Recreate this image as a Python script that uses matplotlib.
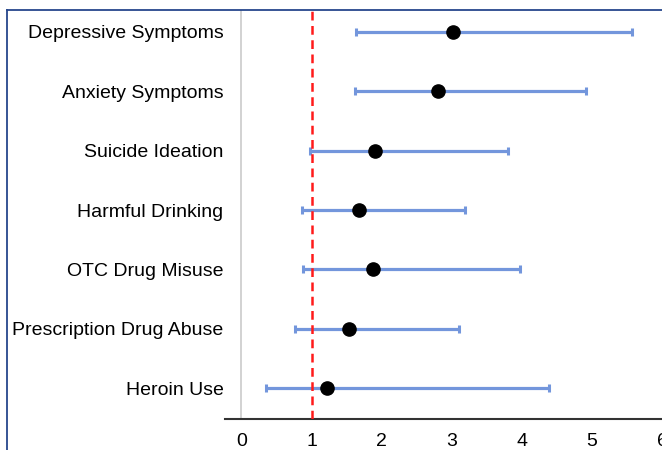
import matplotlib
matplotlib.use("Agg")
import matplotlib.pyplot as plt
from matplotlib.lines import Line2D

outcomes = ["Depressive Symptoms", "Anxiety Symptoms", "Suicide Ideation",
            "Harmful Drinking", "OTC Drug Misuse", "Prescription Drug Abuse",
            "Heroin Use"]
odds = [3.02, 2.81, 1.91, 1.67, 1.87, 1.53, 1.22]
ci_low = [1.64, 1.62, 0.98, 0.87, 0.88, 0.76, 0.35]
ci_high = [5.57, 4.92, 3.80, 3.19, 3.98, 3.10, 4.39]
xticks = [0, 1, 2, 3, 4, 5, 6]

plt.rcParams['font.family'] = ['Liberation Sans', 'DejaVu Sans']

fig = plt.figure(figsize=(6.62, 4.5), dpi=100)
ax = fig.add_axes([225 / 662, 31 / 450, 437 / 662, 409 / 450])

ypos = list(range(len(outcomes) - 1, -1, -1))
err_lo = [o - l for o, l in zip(odds, ci_low)]
err_hi = [h - o for o, h in zip(odds, ci_high)]

# reference lines: zero and the null odds ratio
ax.axvline(0, color="#d2d2d2", lw=1.4, zorder=1)
ax.axvline(1, color="#ff1a1a", lw=1.8, ls=(0, (3.5, 2.2)), zorder=4)

ax.errorbar(odds, ypos, xerr=[err_lo, err_hi], fmt="none",
            ecolor="#7396dc", elinewidth=2.3, capsize=2.8, capthick=2.2,
            zorder=2)
ax.plot(odds, ypos, "o", color="black", markersize=9.5, zorder=5)

ax.set_xlim(-0.235, 6.0)
ax.set_ylim(-0.52, 6.37)
ax.set_xticks(xticks)
ax.set_yticks(ypos)
ax.set_yticklabels(outcomes)
ax.tick_params(axis="y", length=0, pad=1, labelsize=14)
ax.tick_params(axis="x", length=0, pad=10, labelsize=14)

for side in ["top", "right", "left"]:
    ax.spines[side].set_visible(False)
ax.spines["bottom"].set_color("#333333")
ax.spines["bottom"].set_linewidth(1.5)

# outer frame on top and left
frame = "#26468c"
fig.add_artist(Line2D([7 / 662, 1], [1 - 10 / 450, 1 - 10 / 450],
                      color=frame, lw=1.3, transform=fig.transFigure))
fig.add_artist(Line2D([7 / 662, 7 / 662], [0, 1 - 10 / 450],
                      color=frame, lw=1.3, transform=fig.transFigure))

fig.savefig("out.png", dpi=100)
